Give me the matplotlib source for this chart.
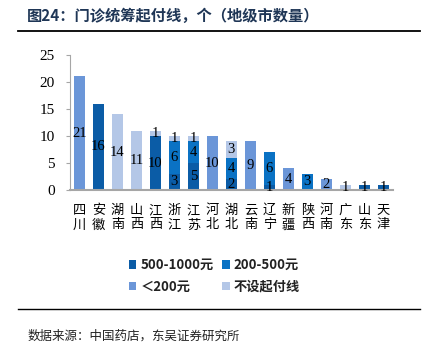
import numpy as np
import matplotlib
matplotlib.use('Agg')
import matplotlib.pyplot as plt
from matplotlib.lines import Line2D
from matplotlib.patches import Patch

plt.rcParams['font.family'] = ['Noto Sans CJK SC', 'DejaVu Sans']

# --- Data ---
cities = ['四川', '安徽', '湖南', '山西', '江西', '浙江', '江苏', '河北', '湖北',
          '云南', '辽宁', '新疆', '陕西', '河南', '广东', '山东', '天津']
v_500_1000 = [0, 16, 0, 0, 10, 3, 5, 0, 2, 0, 1, 0, 0, 0, 0, 1, 1]
v_200_500 = [0, 0, 0, 0, 0, 6, 4, 0, 4, 0, 6, 0, 3, 0, 0, 0, 0]
v_lt200 = [21, 0, 0, 0, 0, 0, 0, 10, 0, 9, 0, 4, 0, 2, 0, 0, 0]
v_none = [0, 0, 14, 11, 1, 1, 1, 0, 3, 0, 0, 0, 0, 0, 1, 0, 0]
series_names = ['500-1000元', '200-500元', '＜200元', '不设起付线']
yticks = [0, 5, 10, 15, 20, 25]

colors = ['#0b5ca6', '#0a72c4', '#6b96d8', '#b4c7e7']
series = [v_500_1000, v_200_500, v_lt200, v_none]

fig = plt.figure(figsize=(4.37, 3.45), dpi=100)
ax = fig.add_axes([0.160, 0.449, 0.739, 0.392])

x = np.arange(len(cities))
bottom = np.zeros(len(cities))
for vals, col in zip(series, colors):
    vals = np.array(vals, dtype=float)
    ax.bar(x, vals, width=0.58, bottom=bottom, color=col, edgecolor='none', zorder=2)
    for xi, b, v in zip(x, bottom, vals):
        if v > 0:
            ax.text(xi, b + v / 2, f'{int(v)}', ha='center', va='center',
                    fontsize=10.5, family='Liberation Serif', color='black', zorder=3)
    bottom += vals

ax.set_xlim(-0.5, len(cities) - 0.5)
ax.set_ylim(0, 25)
ax.set_yticks(yticks)
ax.set_yticklabels([str(t) for t in yticks], family='Liberation Serif', fontsize=11)
ax.set_xticks(x)
ax.set_xticklabels(['\n'.join(c) for c in cities], fontsize=9.5, linespacing=1.15,
                   va='top')
ax.tick_params(axis='x', length=0, pad=10)
ax.tick_params(axis='y', length=3, color='#a6a6a6', pad=8)

for s in ['top', 'right']:
    ax.spines[s].set_visible(False)
ax.spines['left'].set_color('#a6a6a6')
ax.spines['bottom'].set_color('#a6a6a6')
ax.spines['bottom'].set_linewidth(1.5)

# legend (row-wise order: fill columns so rows read left to right)
order = [0, 2, 1, 3]
handles = [Patch(facecolor=colors[i], edgecolor='none') for i in order]
labels = [series_names[i] for i in order]
leg = fig.legend(handles, labels, ncol=2, loc='center',
                 bbox_to_anchor=(0.49, 0.20), frameon=False,
                 handlelength=0.6, handleheight=0.6, handletextpad=0.3,
                 columnspacing=0.6, labelspacing=0.6,
                 prop={'size': 9.5, 'weight': 'bold'})
for t in leg.get_texts():
    t.set_color('#222222')

# title, rules and source
fig.text(0.062, 0.955, '图24：门诊统筹起付线，个（地级市数量）', fontsize=11,
         weight='bold', color='#1f3656', va='center')
fig.add_artist(Line2D([0.041, 0.962], [0.910, 0.910], color='black', lw=1.3))
fig.add_artist(Line2D([0.041, 0.962], [0.104, 0.104], color='black', lw=1.0))
fig.text(0.062, 0.025, '数据来源：中国药店，东吴证券研究所', fontsize=9,
         color='#222222', va='center')

fig.savefig('out.png', dpi=100)
